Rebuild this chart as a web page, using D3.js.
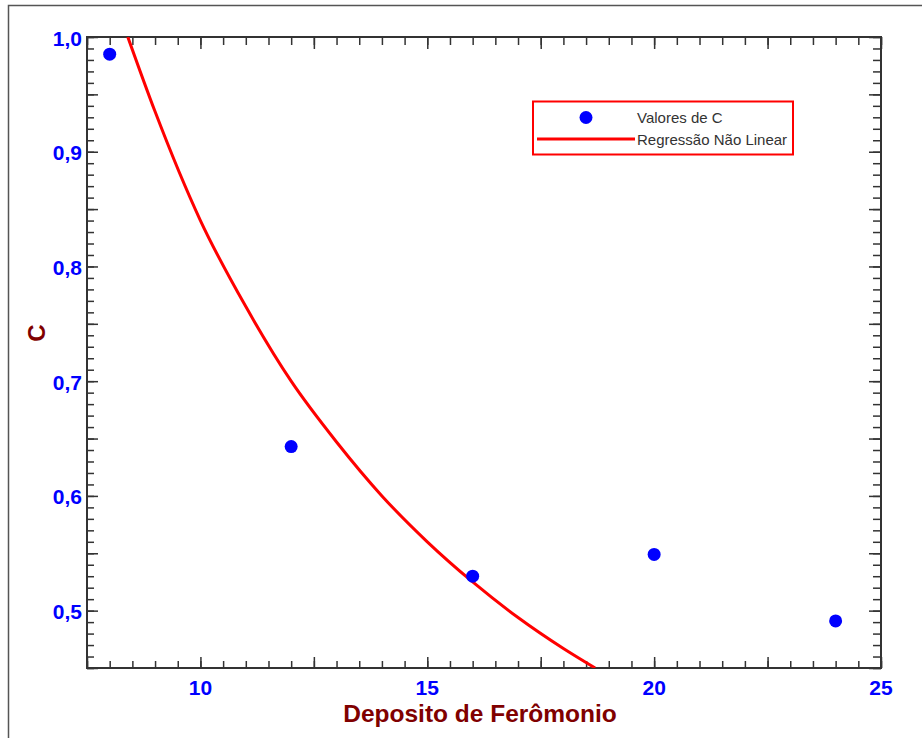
<!DOCTYPE html>
<html>
<head>
<meta charset="utf-8">
<script src="https://cdn.jsdelivr.net/npm/d3@7/dist/d3.min.js"></script>
<style>
  html, body { margin: 0; padding: 0; background: #fff; }
  svg { display: block; }
  text { font-family: "Liberation Sans", Arial, sans-serif; }
</style>
</head>
<body>
<svg id="chart" width="922" height="738"></svg>
<script>
// ---- data ----
const pointX = [8, 12, 16, 20, 24];
const pointY = [0.985, 0.643, 0.530, 0.549, 0.491];

// regression curve
const curveX = [8.4, 9, 10, 11, 12, 13, 14, 15, 16, 17, 18, 18.7];
const curveY = [1.000, 0.935, 0.840, 0.765, 0.700, 0.647, 0.600, 0.560, 0.525, 0.494, 0.467, 0.450];

const xTickLabels = [10, 15, 20, 25];
const yTickLabels = [0.5, 0.6, 0.7, 0.8, 0.9, 1.0];
const xMajorTicks = [7.5, 10, 12.5, 15, 17.5, 20, 22.5, 25];
const yMajorTicks = [0.45, 0.5, 0.55, 0.6, 0.65, 0.7, 0.75, 0.8, 0.85, 0.9, 0.95, 1.0];
const xMinorTicks = d3.range(15, 51).map(d => d / 2);
const yMinorTicks = d3.range(45, 101).map(d => d / 100);

const legendLabels = ["Valores de C", "Regressão Não Linear"];
const xTitle = "Deposito de Ferômonio";
const yTitle = "C";

// ---- layout ----
const svg = d3.select("#chart");
const L = 87, R = 881, T = 37, B = 668;
const x = d3.scaleLinear().domain([7.5, 25]).range([L, R]);
const y = d3.scaleLinear().domain([0.45, 1.0]).range([B, T]);

const BLUE = "#0000ff", RED = "#ff0000", DARKRED = "#800000", AX = "#333";

// outer frame
svg.append("path")
  .attr("d", "M8.5,738 L8.5,5.5 L922,5.5")
  .attr("fill", "none").attr("stroke", "#555").attr("stroke-width", 1.5);

function styleAxis(g) {
  g.select(".domain").remove();
  g.selectAll(".tick line").attr("stroke", AX).attr("stroke-width", 1.5);
  g.selectAll(".tick text").remove();
}

// ticks (inward) on all four sides
const minorLen = 7, majorLen = 11;
svg.append("g").attr("transform", `translate(0,${B})`)
  .call(d3.axisBottom(x).tickValues(xMinorTicks).tickSize(-minorLen)).call(styleAxis);
svg.append("g").attr("transform", `translate(0,${B})`)
  .call(d3.axisBottom(x).tickValues(xMajorTicks).tickSize(-majorLen)).call(styleAxis);
svg.append("g").attr("transform", `translate(0,${T})`)
  .call(d3.axisTop(x).tickValues(xMinorTicks).tickSize(-minorLen - 1)).call(styleAxis);
svg.append("g").attr("transform", `translate(0,${T})`)
  .call(d3.axisTop(x).tickValues(xMajorTicks).tickSize(-majorLen - 1)).call(styleAxis);
svg.append("g").attr("transform", `translate(${L},0)`)
  .call(d3.axisLeft(y).tickValues(yMinorTicks).tickSize(-minorLen)).call(styleAxis);
svg.append("g").attr("transform", `translate(${L},0)`)
  .call(d3.axisLeft(y).tickValues(yMajorTicks).tickSize(-majorLen)).call(styleAxis);
svg.append("g").attr("transform", `translate(${R},0)`)
  .call(d3.axisRight(y).tickValues(yMinorTicks).tickSize(-minorLen - 1)).call(styleAxis);
svg.append("g").attr("transform", `translate(${R},0)`)
  .call(d3.axisRight(y).tickValues(yMajorTicks).tickSize(-majorLen - 1)).call(styleAxis);

// plot frame
svg.append("rect")
  .attr("x", L).attr("y", T).attr("width", R - L).attr("height", B - T)
  .attr("fill", "none").attr("stroke", AX).attr("stroke-width", 2);

// tick labels
const fmt = d => d3.format(".1f")(d).replace(".", ",");
svg.append("g").selectAll("text").data(xTickLabels).join("text")
  .attr("x", d => x(d)).attr("y", B + 27)
  .attr("text-anchor", "middle")
  .attr("fill", BLUE).attr("font-size", 21).attr("font-weight", "bold")
  .text(d => d);
svg.append("g").selectAll("text").data(yTickLabels).join("text")
  .attr("x", L - 5).attr("y", d => y(d) + 8.5)
  .attr("text-anchor", "end")
  .attr("fill", BLUE).attr("font-size", 21).attr("font-weight", "bold")
  .text(fmt);

// axis titles
svg.append("text")
  .attr("x", 480).attr("y", 722)
  .attr("text-anchor", "middle")
  .attr("fill", DARKRED).attr("font-size", 24.5).attr("font-weight", "bold")
  .text(xTitle);
svg.append("text")
  .attr("transform", "translate(45,333) rotate(-90)")
  .attr("text-anchor", "middle")
  .attr("fill", DARKRED).attr("font-size", 24).attr("font-weight", "bold")
  .text(yTitle);

// clip
svg.append("clipPath").attr("id", "clip")
  .append("rect").attr("x", L).attr("y", T).attr("width", R - L).attr("height", B - T);

// regression curve
const curveData = curveX.map((d, i) => [d, curveY[i]]);
svg.append("path")
  .datum(curveData)
  .attr("clip-path", "url(#clip)")
  .attr("fill", "none").attr("stroke", RED).attr("stroke-width", 3)
  .attr("d", d3.line().x(d => x(d[0])).y(d => y(d[1])).curve(d3.curveMonotoneX));

// points
svg.append("g").selectAll("circle").data(pointX.map((d, i) => [d, pointY[i]])).join("circle")
  .attr("cx", d => x(d[0])).attr("cy", d => y(d[1])).attr("r", 6.5)
  .attr("fill", BLUE);

// legend
const lg = svg.append("g");
lg.append("rect").attr("x", 533).attr("y", 101.5).attr("width", 260).attr("height", 53)
  .attr("fill", "#fff").attr("stroke", RED).attr("stroke-width", 2);
lg.append("circle").attr("cx", 586).attr("cy", 117.5).attr("r", 6.5).attr("fill", BLUE);
lg.append("line").attr("x1", 537).attr("x2", 635).attr("y1", 139).attr("y2", 139)
  .attr("stroke", RED).attr("stroke-width", 3);
lg.selectAll("text.lt").data(legendLabels).join("text")
  .attr("class", "lt")
  .attr("x", 637).attr("y", (d, i) => 122.5 + i * 22)
  .attr("fill", "#333").attr("font-size", 15)
  .text(d => d);
</script>
</body>
</html>
